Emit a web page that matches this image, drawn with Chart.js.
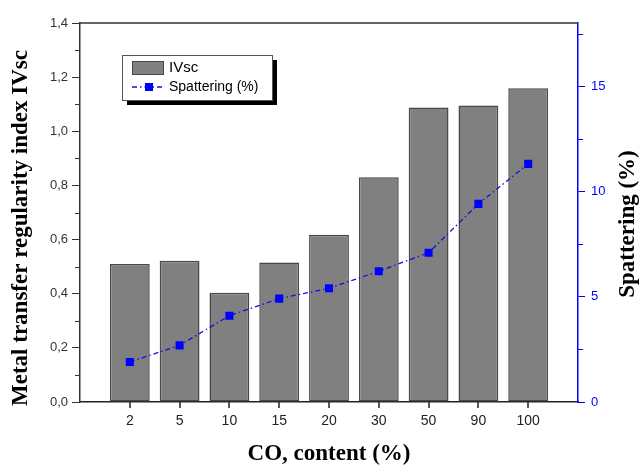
<!DOCTYPE html>
<html>
<head>
<meta charset="utf-8">
<script src="https://cdn.jsdelivr.net/npm/chart.js@4.4.0/dist/chart.umd.min.js"></script>
<style>
  html, body { margin: 0; padding: 0; background: #fff; }
  #wrap { width: 641px; height: 469px; }
</style>
</head>
<body>
<div id="wrap"><canvas id="chart"></canvas></div>
<script>
// data
const categories = ['2', '5', '10', '15', '20', '30', '50', '90', '100'];
const ivsc = [0.51, 0.522, 0.404, 0.515, 0.618, 0.83, 1.088, 1.095, 1.159];
const spattering = [1.90, 2.69, 4.10, 4.91, 5.40, 6.21, 7.09, 9.41, 11.31];
const leftMinor = [0.1, 0.3, 0.5, 0.7, 0.9, 1.1, 1.3];
const rightMinor = [2.5, 7.5, 12.5, 17.5];

const tickFont = 'Arial, "Liberation Sans", sans-serif';
const titleFont = '"Times New Roman", "Liberation Serif", serif';
const blue = '#0000ff';

// empty slots at both ends so the axis runs half a step beyond the first and last bar
const labels = ['', ...categories, ''];
const pad = arr => [null, ...arr, null];

const decorations = {
    id: 'decorations',
    afterDraw(chart) {
        const ctx = chart.ctx;
        const a = chart.chartArea;
        const x = chart.scales.x, y = chart.scales.y, y1 = chart.scales.y1;
        ctx.save();

        // top frame line
        ctx.strokeStyle = '#333';
        ctx.lineWidth = 1.5;
        ctx.beginPath();
        ctx.moveTo(a.left, a.top);
        ctx.lineTo(a.right, a.top);
        ctx.stroke();

        // category ticks under the x axis
        ctx.strokeStyle = '#222';
        ctx.lineWidth = 1.5;
        categories.forEach((c, i) => {
            const p = Math.round(x.getPixelForValue(i + 1));
            ctx.beginPath(); ctx.moveTo(p, a.bottom); ctx.lineTo(p, a.bottom + 6); ctx.stroke();
        });

        // minor ticks
        ctx.strokeStyle = '#333';
        ctx.lineWidth = 1;
        leftMinor.forEach(v => {
            const p = Math.round(y.getPixelForValue(v)) + 0.5;
            ctx.beginPath(); ctx.moveTo(a.left - 5, p); ctx.lineTo(a.left, p); ctx.stroke();
        });
        ctx.strokeStyle = blue;
        rightMinor.forEach(v => {
            const p = Math.round(y1.getPixelForValue(v)) + 0.5;
            ctx.beginPath(); ctx.moveTo(a.right, p); ctx.lineTo(a.right + 5, p); ctx.stroke();
        });

        // axis titles
        ctx.fillStyle = '#000';
        ctx.font = 'bold 23px ' + titleFont;
        ctx.textAlign = 'center';
        ctx.textBaseline = 'middle';
        ctx.fillText('CO, content (%)', (a.left + a.right) / 2, 454);
        ctx.save();
        ctx.translate(21, 228);
        ctx.rotate(-Math.PI / 2);
        ctx.fillText('Metal transfer regularity index IVsc', 0, 0);
        ctx.restore();
        ctx.save();
        ctx.translate(628, 224);
        ctx.rotate(-Math.PI / 2);
        ctx.fillText('Spattering (%)', 0, 0);
        ctx.restore();

        // legend box with shadow
        const bx = 122, by = 55, bw = 150, bh = 45;
        ctx.fillStyle = '#000';
        ctx.fillRect(bx + 5, by + 5, bw, bh);
        ctx.fillStyle = '#fff';
        ctx.fillRect(bx, by, bw, bh);
        ctx.strokeStyle = '#555';
        ctx.lineWidth = 1;
        ctx.strokeRect(bx + 0.5, by + 0.5, bw, bh);

        const ds = chart.data.datasets;
        ctx.fillStyle = ds[0].backgroundColor;
        ctx.fillRect(132, 61, 32, 14);
        ctx.strokeStyle = ds[0].borderColor;
        ctx.strokeRect(132.5, 61.5, 31, 13);

        ctx.strokeStyle = ds[1].borderColor;
        ctx.lineWidth = 1.3;
        ctx.setLineDash(ds[1].borderDash);
        ctx.beginPath(); ctx.moveTo(132, 87); ctx.lineTo(165, 87); ctx.stroke();
        ctx.setLineDash([]);
        ctx.fillStyle = ds[1].pointBackgroundColor;
        ctx.fillRect(145, 83, 8, 8);

        ctx.fillStyle = '#000';
        ctx.font = '15px ' + tickFont;
        ctx.textAlign = 'left';
        ctx.fillText(ds[0].label, 169, 68);
        ctx.font = '14px ' + tickFont;
        ctx.fillText(ds[1].label, 169, 87);
        ctx.restore();
    }
};

new Chart(document.getElementById('chart'), {
    type: 'bar',
    data: {
        labels: labels,
        datasets: [{
            label: 'IVsc',
            data: pad(ivsc),
            backgroundColor: '#808080',
            borderColor: '#484848',
            borderWidth: 1.5,
            borderSkipped: false,
            barPercentage: 0.8,
            categoryPercentage: 1,
            yAxisID: 'y',
            order: 1
        }, {
            type: 'line',
            label: 'Spattering (%)',
            data: pad(spattering),
            borderColor: '#1010e0',
            borderWidth: 1.3,
            borderDash: [5, 3, 1.5, 3],
            pointStyle: 'rect',
            pointRadius: 5.7,
            pointBorderWidth: 0,
            pointBackgroundColor: blue,
            pointBorderColor: blue,
            yAxisID: 'y1',
            order: 0
        }]
    },
    options: {
        responsive: true,
        maintainAspectRatio: false,
        animation: false,
        layout: { padding: { top: 23, left: 0, right: 0, bottom: 0 } },
        plugins: { legend: { display: false }, tooltip: { enabled: false } },
        scales: {
            x: {
                offset: false,
                afterFit: s => { s.height = 67; },
                border: { color: '#222', width: 1.5 },
                grid: { offset: false, drawOnChartArea: false, drawTicks: true, tickLength: 5, tickColor: 'rgba(0,0,0,0)' },
                ticks: { color: '#222', font: { family: tickFont, size: 14 }, padding: 6, maxRotation: 0, autoSkip: false }
            },
            y: {
                position: 'left',
                min: 0,
                max: 1.4,
                afterFit: s => { s.width = 80; },
                border: { color: '#333', width: 1.5 },
                grid: { drawOnChartArea: false, tickLength: 8, tickColor: '#333' },
                ticks: {
                    stepSize: 0.2,
                    color: '#333',
                    padding: 4,
                    font: { family: tickFont, size: 13 },
                    callback: v => v.toFixed(1).replace('.', ',')
                }
            },
            y1: {
                position: 'right',
                min: 0,
                max: 18,
                afterFit: s => { s.width = 63; },
                border: { color: blue, width: 1.5 },
                grid: { drawOnChartArea: false, tickLength: 7, tickColor: blue },
                ticks: {
                    stepSize: 5,
                    includeBounds: false,
                    color: blue,
                    padding: 6,
                    font: { family: tickFont, size: 13 }
                }
            }
        }
    },
    plugins: [decorations]
});
</script>
</body>
</html>
